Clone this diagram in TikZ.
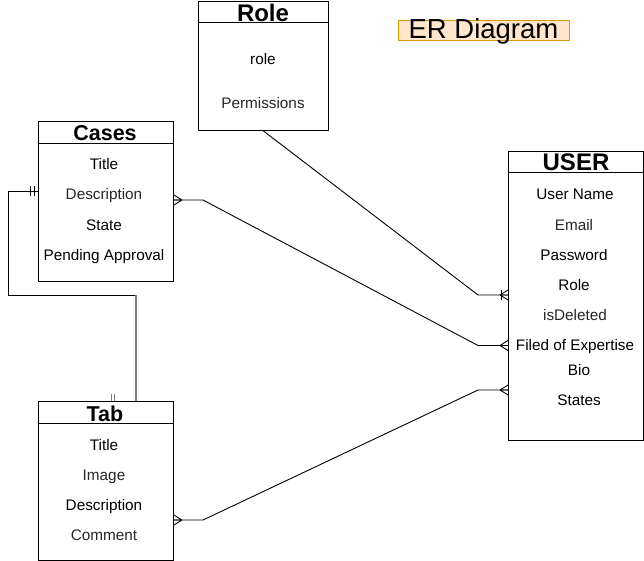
\documentclass[tikz,border=0pt]{standalone}
\usepackage{fontspec}
\setmainfont{Liberation Sans}
\definecolor{txtgray}{HTML}{262626}
\definecolor{lnkgray}{HTML}{808080}
\definecolor{erfill}{HTML}{FFE6CC}
\definecolor{erdraw}{HTML}{D79B00}
\begin{document}
\begin{tikzpicture}[x=1pt,y=-1pt,
  ent/.style={draw, line width=1pt, inner sep=0pt, anchor=north west},
  hdr/.style={font=\fontsize{21.5}{22}\selectfont\bfseries, anchor=base, inner sep=0pt},
  bighdr/.style={hdr, font=\fontsize{24}{24}\selectfont\bfseries},
  attr/.style={font=\fontsize{15.3}{15}\selectfont, anchor=base, inner sep=0pt},
  gattr/.style={attr, text=txtgray},
  conn/.style={line width=0.9pt},
  crow/.pic={\draw[conn] (-8,0) -- (0,-5) (-8,0) -- (0,0) (-8,0) -- (0,5);},
  onebar/.pic={\draw[conn] (-7,-5) -- (-7,5);},
]
\useasboundingbox (0,0) rectangle (644,561);

% ---- Role ----
\node[ent, minimum width=130pt, minimum height=129pt] (role) at (198,1) {};
\draw[line width=1pt] ([yshift=-22pt]role.north west) -- ([yshift=-22pt]role.north east);
\node[bighdr] (roleT) at (263,21.5) {Role};
\node[attr] (roleA1) at (263,65) {role};
\node[gattr] (roleA2) at (263,109) {Permissions};

% ---- Cases ----
\node[ent, minimum width=135pt, minimum height=159.5pt] (cases) at (38,121) {};
\draw[line width=1pt] ([yshift=-22.5pt]cases.north west) -- ([yshift=-22.5pt]cases.north east);
\node[hdr] (casesT) at (105,141) {Cases};
\node[attr] (casesA1) at (104,170) {Title};
\node[gattr] (casesA2) at (104,200) {Description};
\node[attr] (casesA3) at (104,230) {State};
\node[attr] (casesA4) at (104,260) {Pending Approval};

% ---- USER ----
\node[ent, minimum width=135pt, minimum height=289pt] (user) at (508,151) {};
\draw[line width=1pt] ([yshift=-22pt]user.north west) -- ([yshift=-22pt]user.north east);
\node[bighdr] (userT) at (576,171) {USER};
\node[attr] (userA1) at (575,200) {User Name};
\node[gattr] (userA2) at (574,230) {Email};
\node[attr] (userA3) at (574,260) {Password};
\node[attr] (userA4) at (574,290) {Role};
\node[gattr] (userA5) at (575,320) {isDeleted};
\node[attr] (userA6) at (575,350) {Filed of Expertise};
\node[attr] (userA7) at (579,375) {Bio};
\node[attr] (userA8) at (579,405) {States};

% ---- Tab ----
\node[ent, minimum width=135pt, minimum height=159.5pt] (tab) at (38,400.5) {};
\draw[line width=1pt] ([yshift=-22.5pt]tab.north west) -- ([yshift=-22.5pt]tab.north east);
\node[hdr] (tabT) at (105,421.5) {Tab};
\node[attr] (tabA1) at (104,450) {Title};
\node[gattr] (tabA2) at (104,480.5) {Image};
\node[attr] (tabA3) at (104,510.5) {Description};
\node[gattr] (tabA4) at (104,540) {Comment};

% ---- Title label ----
\node[draw=erdraw, fill=erfill, line width=0.9pt, inner sep=0pt,
      minimum width=171pt, minimum height=20pt,
      text height=18.5pt, text depth=1.5pt,
      font=\fontsize{27.5}{27.5}\selectfont] (title) at (483.5,30.5) {ER Diagram};

% ---- Connectors ----
\coordinate (uRole) at (user.west |- 0,295);
\coordinate (uCase) at (user.west |- 0,345.5);
\coordinate (uTab)  at (user.west |- 0,390);
\coordinate (cR) at (cases.east |- 0,200);
\coordinate (tR) at (tab.east |- 0,520);
\coordinate (cL) at (cases.west |- 0,191);
\coordinate (tTop) at (tab.north -| 136,0);

% Role -- USER (one or many)
\draw[conn] (role.south) -- (478,295) -- (uRole);
\pic at (uRole) {crow};
\pic at (uRole) {onebar};

% Cases -- USER (many to many)
\draw[conn] (cR) -- (203,200) -- (478,345.5) -- (uCase);
\pic at (uCase) {crow};
\pic[rotate=180] at (cR) {crow};

% Tab -- USER (many to many)
\draw[conn] (tR) -- (203,520) -- (478,390) -- (uTab);
\pic at (uTab) {crow};
\pic[rotate=180] at (tR) {crow};

% Cases -- Tab (one to one)
\draw[conn] (cL) -- (8,191) -- (8,295) -- (136,295);
\draw[line width=1.4pt, lnkgray] (136,295) -- (tTop);
\draw[conn] (30,186) -- (30,196) (34,186) -- (34,196);
\draw[line width=1pt, lnkgray] (111,394) -- (111,401) (114,394) -- (114,401);
\end{tikzpicture}
\end{document}
